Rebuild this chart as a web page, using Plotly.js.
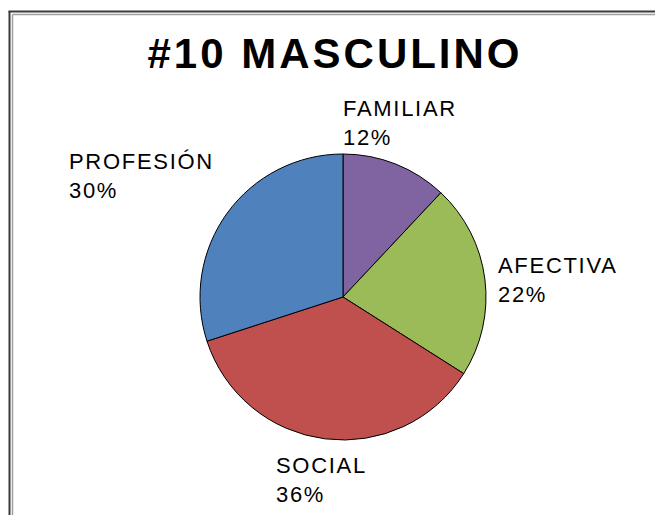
<!DOCTYPE html>
<html>
<head>
<meta charset="utf-8">
<script src="https://cdn.plot.ly/plotly-3.0.1.min.js"></script>
<style>
  html, body { margin: 0; padding: 0; background: #ffffff; }
  #chart { width: 655px; height: 515px; }
  .annotation-text { letter-spacing: 1.7px; }
  .gtitle { letter-spacing: 3px; }
</style>
</head>
<body>
<div id="chart"></div>
<script>
// ---- data ----
const categories = ["FAMILIAR", "AFECTIVA", "SOCIAL", "PROFESIÓN"];
const values = [12, 22, 36, 30];
const percentLabels = ["12%", "22%", "36%", "30%"];
const colors = ["#8064A2", "#9BBB59", "#C0504D", "#4F81BD"];
const chartTitle = "#10 MASCULINO";

// ---- layout helpers (pixel -> paper) ----
const W = 655, H = 515;
const px = x => x / W;
const py = y => 1 - y / H;

// label anchor positions (left, top) in pixels, one per category
const labelPos = [[341, 94], [496, 251], [274, 451], [67, 147]];

const annotations = categories.map((c, i) => ({
  xref: 'paper', yref: 'paper',
  x: px(labelPos[i][0]), y: py(labelPos[i][1]),
  xanchor: 'left', yanchor: 'top', align: 'left',
  showarrow: false,
  text: c + '<br>' + percentLabels[i],
  font: { family: 'Liberation Sans, Arial, sans-serif', size: 22, color: '#000000' }
}));

const trace = {
  type: 'pie',
  labels: categories,
  values: values,
  sort: false,
  direction: 'clockwise',
  rotation: 0,
  textinfo: 'none',
  hoverinfo: 'label+percent',
  marker: { colors: colors, line: { color: '#000000', width: 1 } },
  domain: { x: [px(200), px(486)], y: [py(440), py(154)] }
};

const layout = {
  width: W, height: H,
  margin: { l: 0, r: 0, t: 0, b: 0 },
  paper_bgcolor: '#ffffff',
  plot_bgcolor: '#ffffff',
  showlegend: false,
  title: {
    text: '<b>' + chartTitle + '</b>',
    x: px(335), xanchor: 'center',
    y: py(53), yanchor: 'middle', yref: 'paper',
    font: { family: 'Liberation Sans, Arial, sans-serif', size: 42, color: '#000000' }
  },
  annotations: annotations,
  shapes: [
    { type: 'line', xref: 'paper', yref: 'paper', x0: px(9.5), x1: px(9.5), y0: -0.05, y1: py(11), line: { color: '#3a3a3a', width: 2 } },
    { type: 'line', xref: 'paper', yref: 'paper', x0: px(8.5), x1: 1.05, y0: py(11.5), y1: py(11.5), line: { color: '#3a3a3a', width: 2 } },
    { type: 'line', xref: 'paper', yref: 'paper', x0: px(12.5), x1: px(12.5), y0: -0.05, y1: py(14.5), line: { color: '#a0a0a0', width: 1.5 } },
    { type: 'line', xref: 'paper', yref: 'paper', x0: px(12.5), x1: 1.05, y0: py(14.5), y1: py(14.5), line: { color: '#a0a0a0', width: 1.5 } }
  ]
};

Plotly.newPlot('chart', [trace], layout, { displayModeBar: false, staticPlot: true });
</script>
</body>
</html>
